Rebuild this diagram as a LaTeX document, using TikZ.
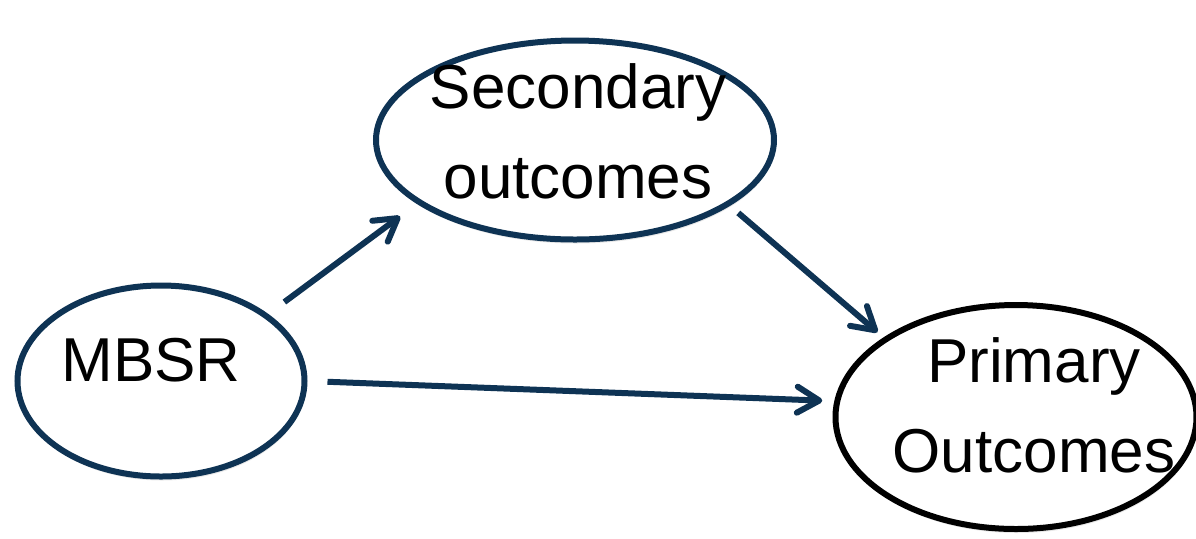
\documentclass[tikz,border=0pt]{standalone}
\usepackage{fontspec}
\setmainfont{Liberation Sans}
\usetikzlibrary{positioning,arrows.meta,shapes.geometric,shadows}
\definecolor{navy}{HTML}{0E3354}

\begin{document}
\begin{tikzpicture}[
     x=0.5pt, y=-0.5pt,
     % define styles
     oval/.style={
         draw=navy,
         fill=white,
         ellipse,
         line width=3pt,
         inner sep=0pt,
         drop shadow={opacity=0.18, shadow xshift=0.5pt, shadow yshift=-2pt}
     },
     words/.style={
         font=\fontsize{31}{45}\selectfont,
         align=center,
         inner sep=0pt
     },
     link/.style={
         ->,
         draw=navy,
         line width=3pt
     },
     >={Straight Barb[length=11pt,width=13pt,round]}
]
\useasboundingbox (0,0) rectangle (1196,538);
% ovals
\node[oval, minimum width=143.5pt, minimum height=95.5pt] (mbsr) at (161,381) {};
\node[oval, minimum width=199pt, minimum height=99.5pt] (sec) at (575,140) {};
\node[oval, draw=black, minimum width=180.5pt, minimum height=112pt] (prim) at (1016,417) {};
% texts
\node[words] (mbsr text) at (151,360) {MBSR};
\node[words] (sec text) at (578,131) {Secondary\\outcomes};
\node[words] (prim text) at (1034,405) {Primary\\Outcomes};
% paths
\draw[link, shorten <=10pt, shorten >=10.5pt] (mbsr.32) -- (sec.202);
\draw[link, shorten <=5.5pt, shorten >=4pt] (sec.337) -- (prim.149);
\draw[link, shorten <=10pt, shorten >=6pt] (mbsr.0) -- (prim.175);
\end{tikzpicture}
\end{document}
